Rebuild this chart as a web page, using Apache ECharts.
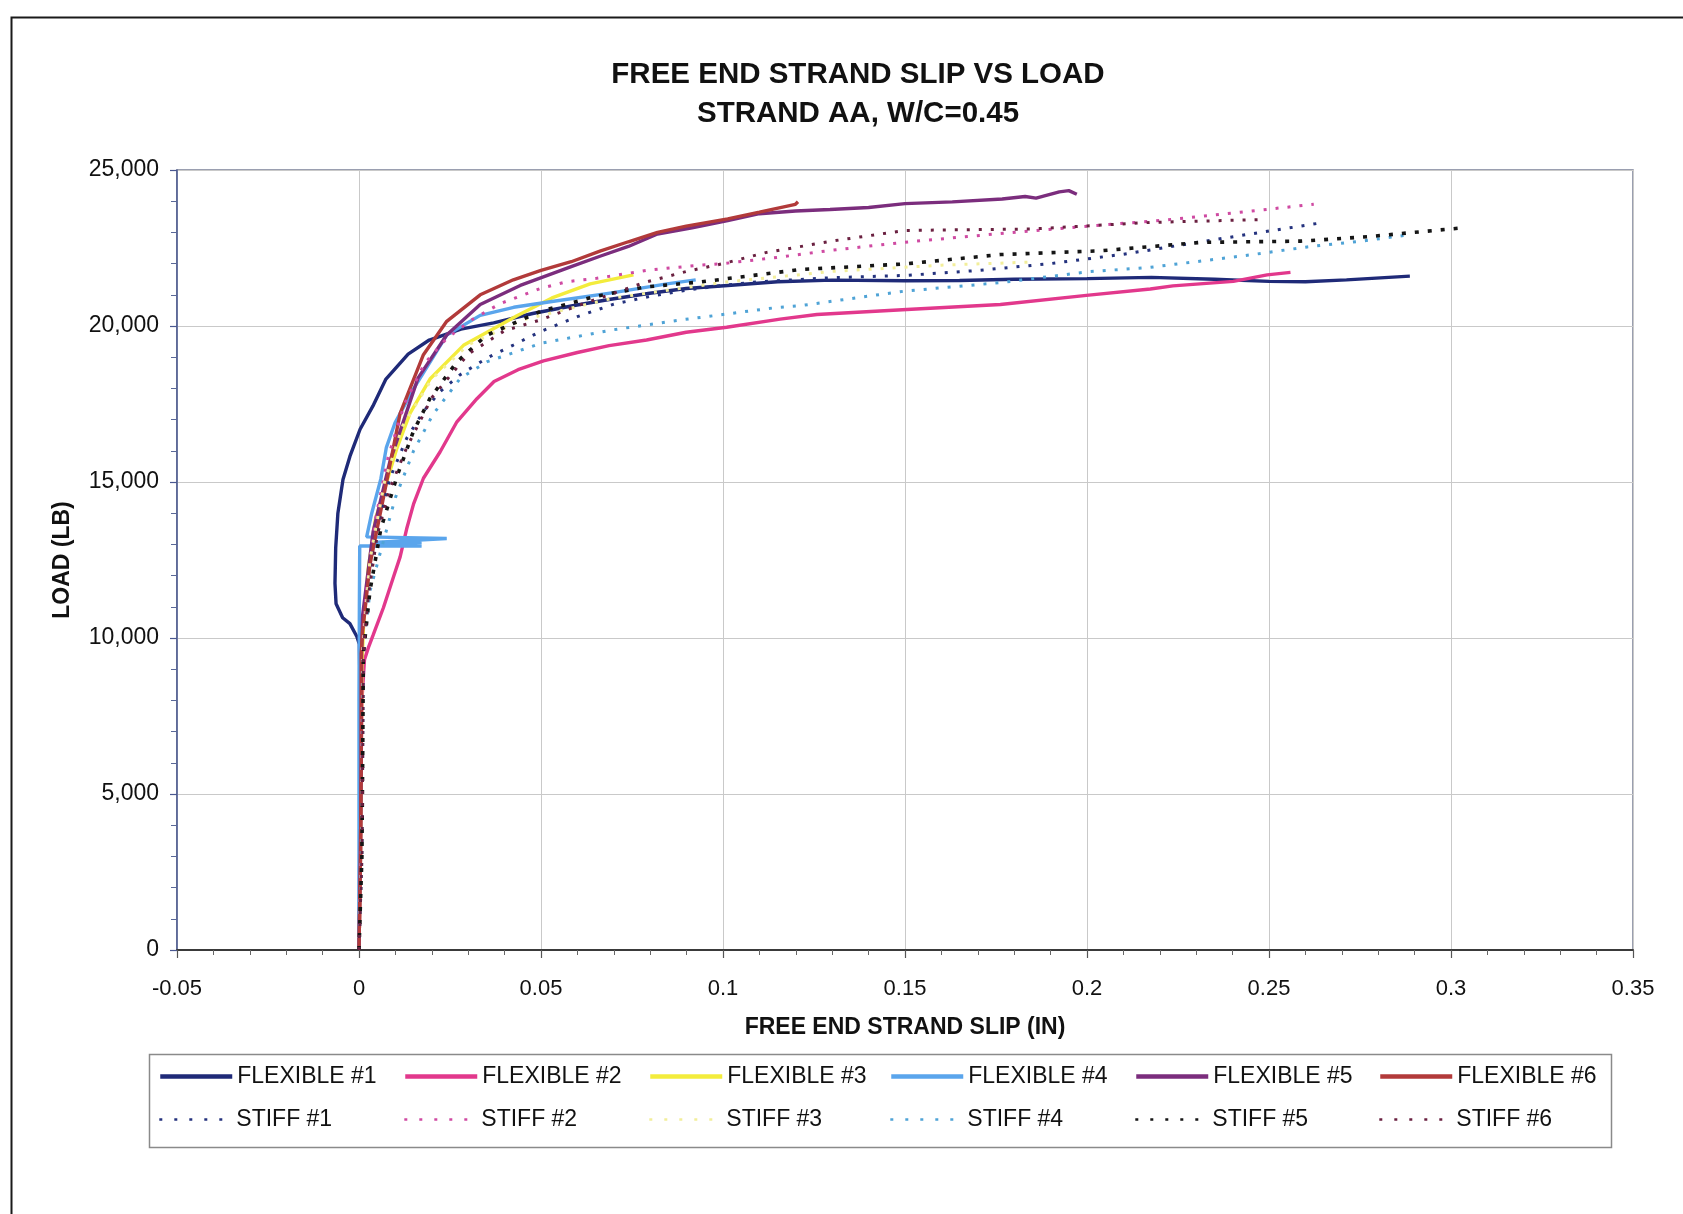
<!DOCTYPE html>
<html><head><meta charset="utf-8">
<script src="https://cdn.jsdelivr.net/npm/echarts@6/dist/echarts.min.js"></script>
<style>html,body{margin:0;padding:0;background:#fff}#c{width:1683px;height:1214px}</style>
</head><body><div id="c"></div>
<script>
const chartTitle = 'FREE END STRAND SLIP VS LOAD\nSTRAND AA, W/C=0.45';
const xAxisName = 'FREE END STRAND SLIP (IN)';
const yAxisName = 'LOAD (LB)';
const xMin = -0.05, xMax = 0.35, xStep = 0.05;
const yMin = 0, yMax = 25000, yStep = 5000;

const seriesNames = ['FLEXIBLE #1','FLEXIBLE #2','FLEXIBLE #3','FLEXIBLE #4','FLEXIBLE #5','FLEXIBLE #6',
                     'STIFF #1','STIFF #2','STIFF #3','STIFF #4','STIFF #5','STIFF #6'];

const flex1 = [[0,0],[0.0002,3000],[0.0002,6000],[0.0002,9000],[0.0001,9800],[-0.0006,10050],[-0.0025,10460],[-0.0045,10650],[-0.0063,11100],[-0.0066,11750],[-0.0064,12900],[-0.0058,14000],[-0.0044,15080],[-0.0025,15820],[0.0003,16690],[0.0038,17430],[0.0074,18300],[0.0135,19100],[0.0193,19550],[0.028,19900],[0.037,20100],[0.0477,20400],[0.0587,20650],[0.0687,20850],[0.0799,21050],[0.0899,21200],[0.1013,21300],[0.115,21420],[0.13,21470],[0.15,21450],[0.165,21460],[0.18,21500],[0.2,21520],[0.2177,21560],[0.235,21500],[0.25,21430],[0.26,21420],[0.2713,21480],[0.2887,21600]];
const flex2 = [[0,0],[0.0004,3000],[0.0006,6000],[0.0008,8000],[0.0015,9300],[0.0026,9700],[0.0039,10100],[0.0067,10970],[0.0094,11930],[0.0113,12600],[0.0131,13500],[0.015,14300],[0.0177,15120],[0.0223,15970],[0.0269,16930],[0.0324,17670],[0.0371,18220],[0.0437,18600],[0.0507,18880],[0.06,19150],[0.0687,19370],[0.079,19550],[0.0899,19800],[0.101,19960],[0.1157,20220],[0.1258,20370],[0.1505,20530],[0.1762,20690],[0.2005,20990],[0.2174,21185],[0.2236,21285],[0.2402,21430],[0.2495,21640],[0.2559,21720]];
const flex3 = [[0,0],[0.0004,3000],[0.0006,6000],[0.0008,9000],[0.0012,10300],[0.0025,12200],[0.0045,13800],[0.0077,15030],[0.0104,16080],[0.014,17200],[0.0195,18300],[0.0287,19380],[0.0434,20330],[0.053,20900],[0.0635,21350],[0.0754,21640]];
const flex4 = [[0,0],[0,4000],[0,8000],[0.0001,11000],[0.0002,12950],[0.0172,12950],[0.0172,13010],[0.006,13000],[0.0172,13060],[0.004,13060],[0.0241,13190],[0.0241,13240],[0.0021,13240],[0.0035,14000],[0.006,15100],[0.0075,16100],[0.0099,16900],[0.0151,18010],[0.0241,19710],[0.0333,20340],[0.0425,20600],[0.0516,20760],[0.0699,21070],[0.0846,21350],[0.0925,21480]];
const flex5 = [[0,0],[0.0004,3000],[0.0006,6000],[0.0007,9500],[0.001,10740],[0.0039,13420],[0.0085,15660],[0.0162,18330],[0.0241,19710],[0.0333,20690],[0.0443,21300],[0.0583,21900],[0.0662,22235],[0.074,22550],[0.082,22950],[0.0915,23150],[0.1013,23380],[0.11,23600],[0.1199,23686],[0.1294,23734],[0.14,23800],[0.15,23923],[0.163,23980],[0.1767,24071],[0.183,24150],[0.186,24100],[0.1924,24300],[0.195,24340],[0.1972,24225]];
const flex6 = [[0,0],[0.0004,3000],[0.0006,6000],[0.0006,9500],[0.001,10210],[0.003,12350],[0.0067,14490],[0.0113,17200],[0.0177,19080],[0.0241,20150],[0.0333,21000],[0.0424,21480],[0.05,21780],[0.0583,22060],[0.0662,22400],[0.074,22700],[0.082,23000],[0.0899,23200],[0.1013,23435],[0.11,23650],[0.1199,23900],[0.1206,23980]];
const stiff1 = [[0,0],[0.0007,3000],[0.0009,6000],[0.001,9000],[0.002,11000],[0.004,13000],[0.0085,15120],[0.0131,16400],[0.0177,17260],[0.0223,17900],[0.0278,18440],[0.0351,18970],[0.0424,19390],[0.0498,19820],[0.06,20300],[0.07,20700],[0.08,20950],[0.09,21150],[0.1,21300],[0.11,21420],[0.13,21550],[0.15,21620],[0.17,21780],[0.19,22000],[0.21,22300],[0.2357,22780],[0.2632,23285]];
const stiff2 = [[0,0],[0.0006,3000],[0.0008,6000],[0.0009,9500],[0.002,11500],[0.0045,13800],[0.008,15800],[0.0125,17500],[0.018,18800],[0.0241,19600],[0.031,20200],[0.0388,20720],[0.0498,21200],[0.0571,21420],[0.0653,21530],[0.08,21800],[0.0937,21950],[0.1,22000],[0.115,22200],[0.13,22430],[0.15,22687],[0.175,22950],[0.2,23200],[0.22,23380],[0.24,23620],[0.2623,23900]];
const stiff3 = [[0,0],[0.0007,3000],[0.0009,6000],[0.001,9500],[0.003,12500],[0.007,15000],[0.012,16800],[0.02,18300],[0.03,19400],[0.045,20200],[0.07,20900],[0.1,21400],[0.13,21750],[0.16,21950],[0.185,22050]];
const stiff4 = [[0,0],[0.0008,3000],[0.001,6000],[0.0012,9500],[0.003,11500],[0.006,12800],[0.01,14500],[0.015,16000],[0.0203,17160],[0.0278,18320],[0.0351,18850],[0.05,19447],[0.0699,19880],[0.0882,20190],[0.1139,20580],[0.1212,20650],[0.15,21120],[0.1762,21390],[0.2005,21740],[0.2174,21880],[0.245,22280],[0.2605,22535],[0.276,22730],[0.287,22900]];
const stiff5 = [[0,0],[0.0008,3000],[0.001,6000],[0.0012,9500],[0.003,11500],[0.006,13500],[0.0105,15200],[0.0149,16610],[0.0195,17680],[0.0269,18850],[0.035,19700],[0.05,20474],[0.065,20950],[0.0786,21250],[0.0937,21410],[0.1212,21810],[0.15,21990],[0.1762,22290],[0.2037,22410],[0.2312,22680],[0.2587,22720],[0.277,22860],[0.302,23133]];
const stiff6 = [[0,0],[0.0008,3000],[0.001,6000],[0.0012,9500],[0.0025,11300],[0.005,13300],[0.0085,14800],[0.0131,16100],[0.02,17700],[0.03,19100],[0.04,19850],[0.05,20200],[0.06,20650],[0.07,21050],[0.0786,21400],[0.09,21750],[0.1,22000],[0.112,22360],[0.1304,22730],[0.15,23063],[0.185,23110],[0.2174,23320],[0.2477,23410]];

const seriesData = [flex1, flex2, flex3, flex4, flex5, flex6, stiff1, stiff2, stiff3, stiff4, stiff5, stiff6];

const colors = ['#1f2a78','#e2388c','#f3ec3c','#5aa5ec','#7b2d7d','#b23a3a',
                '#24327e','#cf4aa2','#f2ee9a','#4fa3d6','#151515','#6a2040'];
const FONT = '"Liberation Sans", Arial, sans-serif';

const chart = echarts.init(document.getElementById('c'), null, {renderer: 'canvas'});

const series = seriesNames.map((name, i) => {
  const stiff = i >= 6;
  return {
    name: name,
    type: 'line',
    data: seriesData[i],
    showSymbol: false,
    symbol: 'none',
    smooth: false,
    z: stiff ? 3 : 2,
    lineStyle: stiff
      ? {color: colors[i], width: (i === 10 ? 3.6 : 3), type: (i === 10 ? [4, 9] : [3, 9]), cap: 'butt'}
      : {color: colors[i], width: 3.4},
    itemStyle: {color: colors[i]},
    emphasis: {disabled: true}
  };
});

const colLeft = [158, 403, 648, 889, 1134, 1378];
const rowTop = [1065, 1108];
const legends = seriesNames.map((name, i) => {
  const stiff = i >= 6;
  return {
    left: colLeft[i % 6],
    top: rowTop[Math.floor(i / 6)],
    padding: 0,
    itemWidth: 72,
    itemHeight: 14,
    selectedMode: false,
    textStyle: {fontSize: 23, color: '#111', fontFamily: FONT},
    itemStyle: {opacity: 0},
    data: [{name: name,
      itemStyle: {opacity: 0},
      lineStyle: stiff ? {width: 2.6, type: [3, 12], color: colors[i], opacity: 1} : {width: 4.5, color: colors[i], opacity: 1}
    }]
  };
});

const fmtThousands = v => String(Math.round(v)).replace(/\B(?=(\d{3})+(?!\d))/g, ',');

chart.setOption({
  animation: false,
  backgroundColor: '#ffffff',
  title: {
    text: chartTitle,
    left: 853, top: 50, textAlign: 'center',
    textStyle: {fontSize: 29.5, fontWeight: 'bold', color: '#111', lineHeight: 39, fontFamily: FONT}
  },
  legend: legends,
  grid: {
    left: 177, top: 170, width: 1456, height: 780,
    show: true, borderColor: '#7a8096', borderWidth: 1.5, backgroundColor: 'transparent'
  },
  xAxis: {
    type: 'value', min: xMin, max: xMax, interval: xStep,
    name: xAxisName, nameLocation: 'middle', nameGap: 66,
    nameTextStyle: {fontSize: 23, fontWeight: 'bold', color: '#111', fontFamily: FONT},
    axisLine: {show: true, onZero: false, lineStyle: {color: '#3a3a3a', width: 2}},
    axisTick: {show: true, length: 8, lineStyle: {color: '#555', width: 1.2}},
    minorTick: {show: true, splitNumber: 5, length: 5, lineStyle: {color: '#666', width: 1}},
    axisLabel: {fontSize: 22, color: '#111', margin: 28, fontFamily: FONT},
    splitLine: {show: true, lineStyle: {color: '#c9c9c9', width: 1}}
  },
  yAxis: {
    type: 'value', min: yMin, max: yMax, interval: yStep,
    name: yAxisName, nameLocation: 'middle', nameGap: 103, nameRotate: 90,
    nameTextStyle: {fontSize: 23, fontWeight: 'bold', color: '#111', fontFamily: FONT},
    axisLine: {show: true, onZero: false, lineStyle: {color: '#4a5890', width: 1.5}},
    axisTick: {show: true, length: 7, lineStyle: {color: '#4a5890', width: 1.2}},
    minorTick: {show: true, splitNumber: 5, length: 6, lineStyle: {color: '#5a6898', width: 1}},
    axisLabel: {fontSize: 23, color: '#111', margin: 18, fontFamily: FONT, formatter: fmtThousands},
    splitLine: {show: true, lineStyle: {color: '#c9c9c9', width: 1}}
  },
  graphic: [
    {type: 'rect', left: 9, top: 15, shape: {x: 0, y: 0, width: 1700, height: 1230},
     style: {fill: 'none', stroke: '#1a1a1a', lineWidth: 2}, silent: true, z: -10},
    {type: 'rect', left: 147, top: 1052, shape: {x: 0, y: 0, width: 1462, height: 93},
     style: {fill: 'none', stroke: '#8a8a8a', lineWidth: 1.5}, silent: true, z: -5}
  ],
  series: series
});
</script>
</body></html>
